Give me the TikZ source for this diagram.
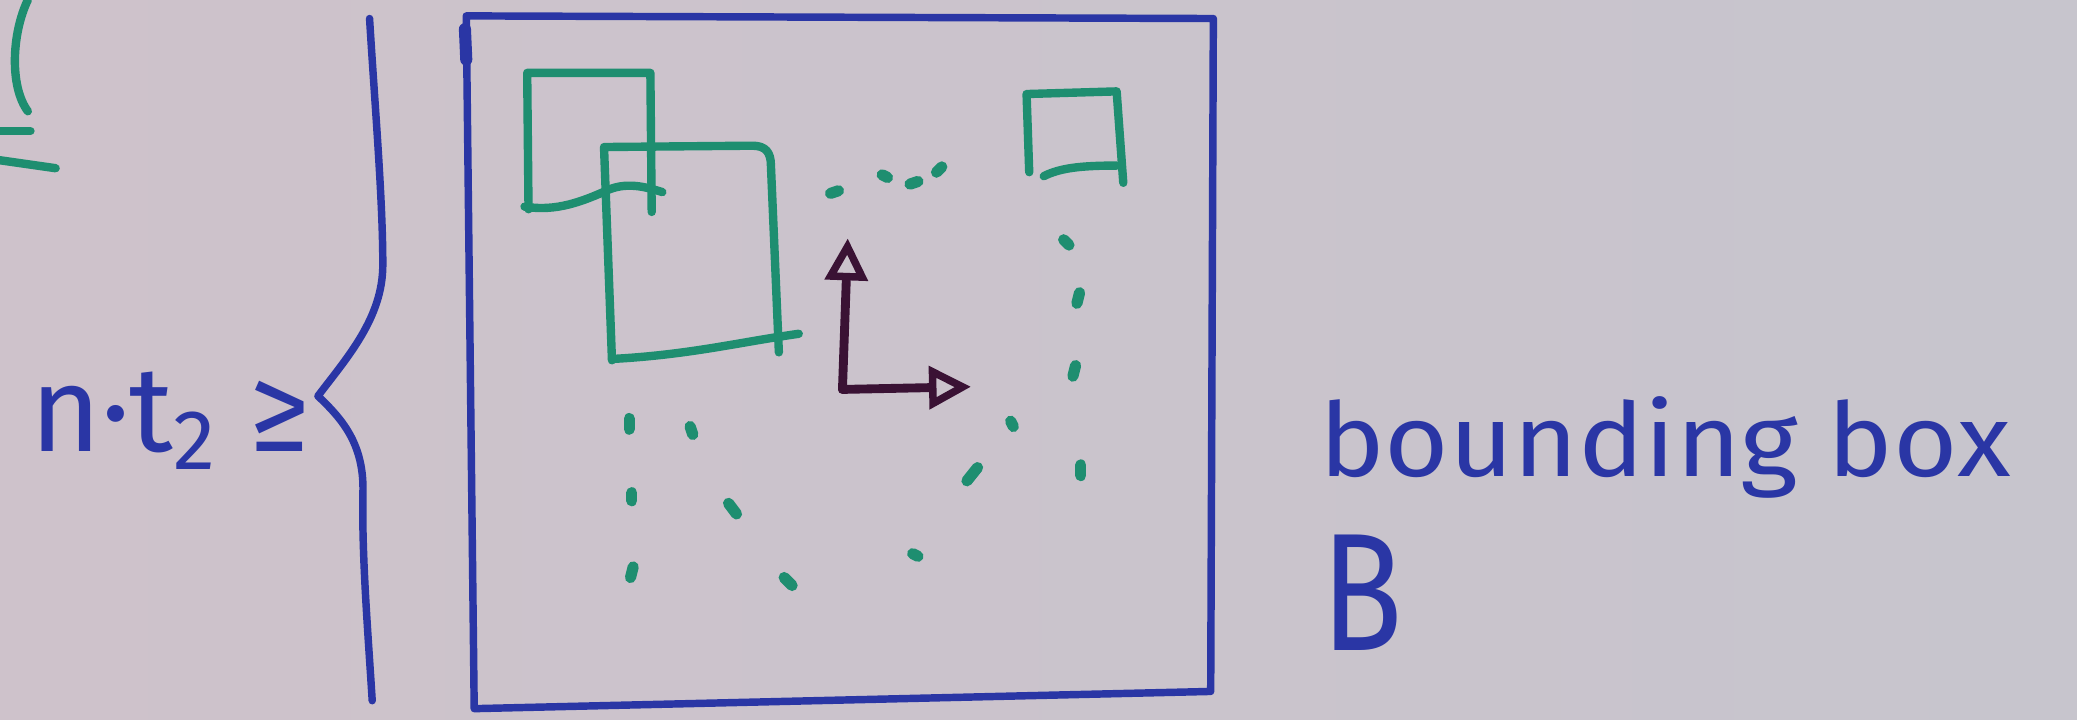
\documentclass[tikz,border=0pt]{standalone}
\usepackage{fontspec}
\setmainfont{Fira Sans}
\usetikzlibrary{arrows.meta}
\definecolor{paperL}{RGB}{206,194,203}
\definecolor{paperR}{RGB}{199,197,205}
\definecolor{inkblue}{RGB}{42,54,165}
\definecolor{inkgreen}{RGB}{30,142,112}
\definecolor{inkpurple}{RGB}{58,18,52}
\begin{document}
\begin{tikzpicture}[x=0.01cm,y=-0.01cm,
  blueline/.style={draw=inkblue,line width=1.6pt,line cap=round,line join=round},
  greenline/.style={draw=inkgreen,line width=1.8pt,line cap=round,line join=round},
  greendot/.style={draw=inkgreen,line width=2.4pt,line cap=round},
  axisarrow/.style={draw=inkpurple,line width=1.9pt,line cap=round,-{Triangle[open,length=9pt,width=9pt,line width=1.6pt]}},
  handtext/.style={text=inkblue,inner sep=0pt,anchor=base west}]

\useasboundingbox (0,0) rectangle (1568,543);
\shade[left color=paperL,right color=paperR] (0,0) rectangle (1568,543);

% green marks at the left edge
\draw[greenline] (21,0) .. controls (9,25) and (7,65) .. (21,84);
\draw[greenline] (0,99) -- (23,99);
\draw[greenline] (0,121) -- (42,127);

% left-hand side and brace
\node[handtext,font=\fontsize{26pt}{30pt}\selectfont] (lhs) at (22,341) {n·t\textsubscript{2} ≥};
\draw[blueline] (279,14) .. controls (283,80) and (289,150) .. (289,200)
  .. controls (289,240) and (262,270) .. (240,299)
  .. controls (258,316) and (275,335) .. (274,372)
  .. controls (273,420) and (278,480) .. (281,529);

% bounding box B
\coordinate (bbTL) at (352,12);
\coordinate (bbTR) at (916,14);
\coordinate (bbBR) at (914,522);
\coordinate (bbBL) at (358,535);
\draw[blueline] (bbTL) -- (bbTR) -- (bbBR) -- (bbBL) -- cycle;
\draw[blueline,line width=2.6pt] (351,22) -- (352,45);

% green rectangles
\draw[greenline] (399,158) -- (398,55) -- (491,55) -- (492,160);
\draw[greenline] (396,156) .. controls (420,160) and (440,152) .. (460,143)
  .. controls (475,137) and (490,142) .. (500,145);
\draw[greenline] (462,272) -- (456,111) -- (568,110)
  .. controls (578,110) and (582,115) .. (582,125) -- (588,266);
\draw[greenline] (462,271) .. controls (520,268) and (560,258) .. (603,252);
\draw[greenline] (777,130) -- (775,71) -- (843,69) -- (848,138);
\draw[greenline] (788,133) .. controls (800,127) and (815,125) .. (843,125);

% dotted placeholders
\foreach \x/\y/\dx/\dy in {630/145/3/-1, 668/133/2/1, 690/138/3/-1, 709/128/2/-2,
  805/183/2/2, 814/225/-1/4, 811/280/-1/4, 764/320/1/2, 816/355/0/4, 734/358/-4/5,
  691/419/2/1, 595/439/3/3, 553/384/3/4, 477/375/0/3, 477/432/-1/4, 475/320/0/4,
  522/325/1/3}
  \draw[greendot] (\x-\dx,\y-\dy) -- (\x+\dx,\y+\dy);

% coordinate axes
\coordinate (origin) at (636,294);
\coordinate (ytip) at (640,180);
\coordinate (xtip) at (733,292);
\draw[axisarrow] (origin) -- (ytip);
\draw[axisarrow] (origin) -- (xtip);

% labels
\node[handtext,font=\fontsize{22pt}{26pt}\selectfont,xscale=1.08] (bblabel) at (995,360) {bounding box};
\node[handtext,font=\fontsize{36pt}{40pt}\selectfont,xscale=0.8] (bbname) at (997,491) {B};
\end{tikzpicture}
\end{document}
